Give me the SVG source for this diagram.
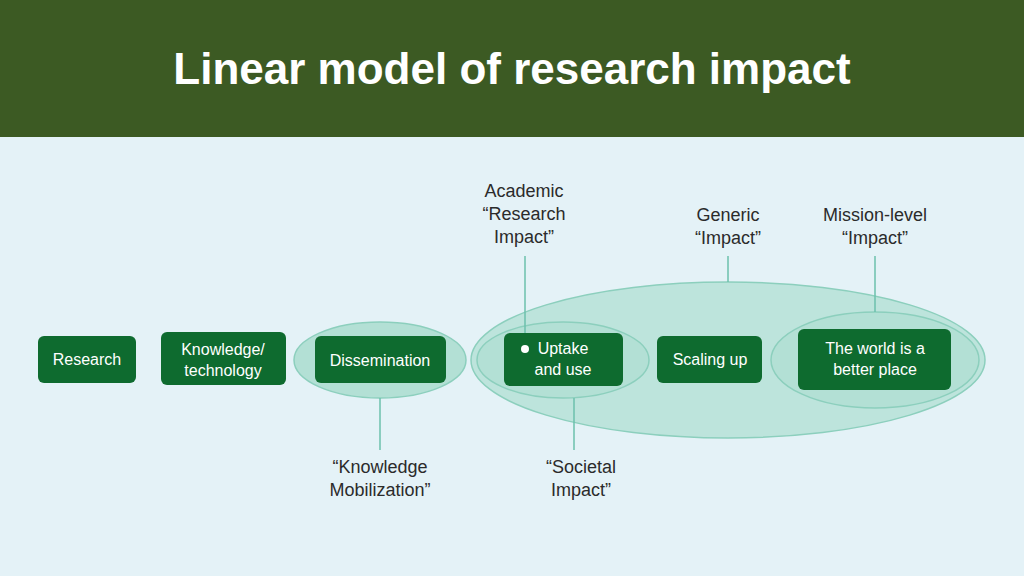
<svg xmlns="http://www.w3.org/2000/svg" width="1024" height="576" viewBox="0 0 1024 576">
<style>
text{font-family:"Liberation Sans",Arial,sans-serif}
.lbl{font-size:18px;fill:#2b2b2b;text-anchor:middle}
.bt{font-size:16px;fill:#fff;text-anchor:middle}
.box{fill:#0e6b2f}
.ell{fill:#b3e0d5;stroke:#8ccfbd;stroke-width:1.5}
.ln{stroke:#6cc1ad;stroke-width:1.5;fill:none}
</style>
<rect width="1024" height="576" fill="#e4f2f7"/>
<rect width="1024" height="137" fill="#3c5a23"/>
<text x="512" y="84" font-size="44" font-weight="bold" fill="#fff" text-anchor="middle">Linear model of research impact</text>
<g id="ellipses">
<ellipse class="ell" cx="728" cy="360" rx="257" ry="78" fill-opacity="0.8"/>
<ellipse class="ell" cx="380" cy="360" rx="86" ry="38"/>
<ellipse class="ell" cx="563" cy="360" rx="86" ry="38" fill="#a5d9cb"/>
<ellipse class="ell" cx="875" cy="360" rx="104" ry="48" fill="#a5d9cb"/>
</g>
<g id="connectors">
<line class="ln" x1="525" y1="256" x2="525" y2="349"/>
<line class="ln" x1="728" y1="256" x2="728" y2="282"/>
<line class="ln" x1="875" y1="256" x2="875" y2="312"/>
<line class="ln" x1="380" y1="398" x2="380" y2="450"/>
<line class="ln" x1="574" y1="398" x2="574" y2="450"/>
</g>
<g id="research"><rect class="box" x="38" y="336" width="98" height="47" rx="6"/><text class="bt" x="87" y="365">Research</text></g>
<g id="knowledge"><rect class="box" x="161" y="332" width="125" height="53" rx="6"/><text class="bt" x="223" y="355">Knowledge/</text><text class="bt" x="223" y="376">technology</text></g>
<g id="dissemination"><rect class="box" x="315" y="336" width="131" height="47" rx="6"/><text class="bt" x="380" y="366">Dissemination</text></g>
<g id="uptake"><rect class="box" x="504" y="333" width="119" height="53" rx="6"/><text class="bt" x="563" y="354">Uptake</text><text class="bt" x="563" y="375">and use</text><circle cx="525" cy="349" r="4" fill="#fff"/></g>
<g id="scaling"><rect class="box" x="657" y="336" width="105" height="47" rx="6"/><text class="bt" x="710" y="365">Scaling up</text></g>
<g id="world"><rect class="box" x="798" y="329" width="153" height="61" rx="6"/><text class="bt" x="875" y="354">The world is a</text><text class="bt" x="875" y="375">better place</text></g>
<g id="labels">
<text class="lbl" x="524" y="197">Academic</text>
<text class="lbl" x="524" y="220">“Research</text>
<text class="lbl" x="524" y="243">Impact”</text>
<text class="lbl" x="728" y="221">Generic</text>
<text class="lbl" x="728" y="244">“Impact”</text>
<text class="lbl" x="875" y="221">Mission-level</text>
<text class="lbl" x="875" y="244">“Impact”</text>
<text class="lbl" x="380" y="473">“Knowledge</text>
<text class="lbl" x="380" y="496">Mobilization”</text>
<text class="lbl" x="581" y="473">“Societal</text>
<text class="lbl" x="581" y="496">Impact”</text>
</g>
</svg>
